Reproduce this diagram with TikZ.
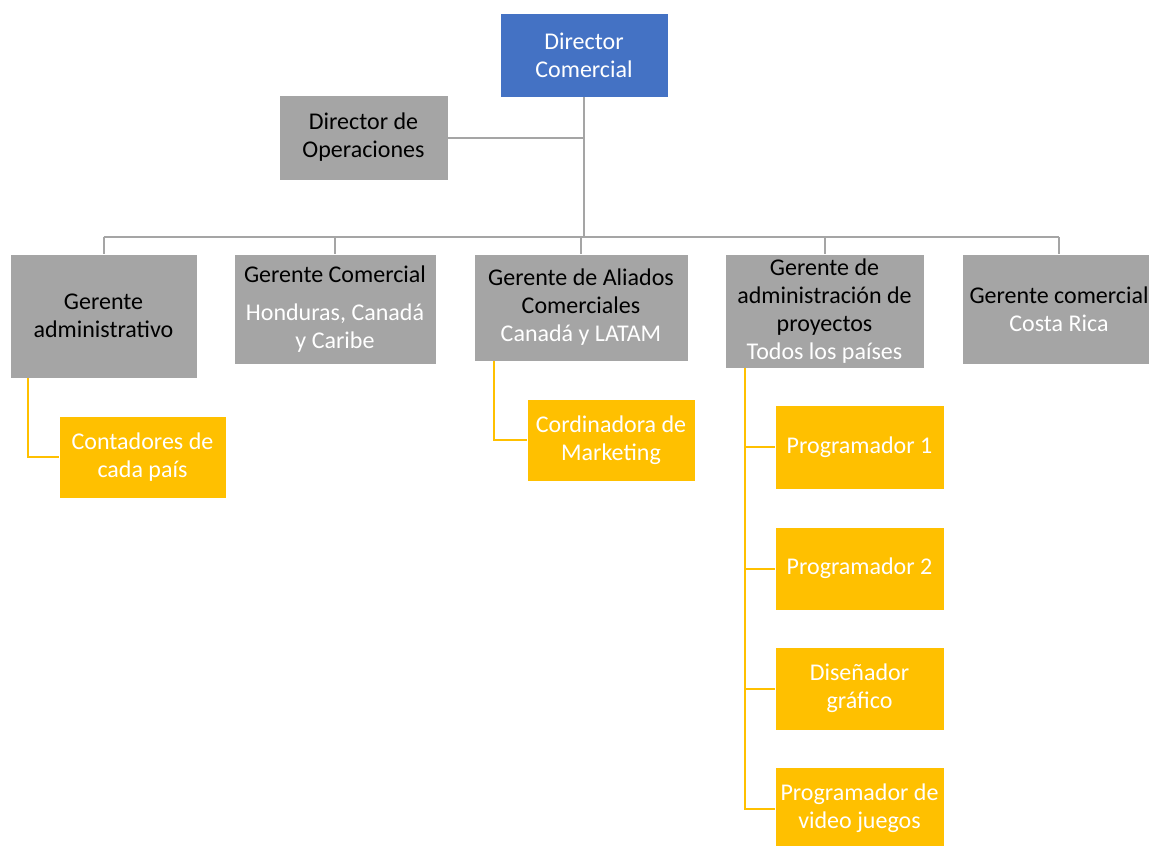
\documentclass[tikz,border=0pt]{standalone}
\usepackage{fontspec}
\setmainfont{Carlito}
\usetikzlibrary{positioning,calc}
\definecolor{azul}{HTML}{4472C4}
\definecolor{gris}{HTML}{A5A5A5}
\definecolor{ambar}{HTML}{FFC000}
\newcommand{\blanco}[1]{\textcolor{white}{#1}}

\begin{document}
\begin{tikzpicture}[x=1pt,y=-1pt,
    caja/.style={draw=white, line width=0.8pt, inner sep=0pt, align=center, font=\fontsize{24}{28}\selectfont},
    jefe/.style={caja, fill=azul, text=white},
    gerente/.style={caja, fill=gris, text=black},
    apoyo/.style={caja, fill=ambar, text=white},
    linea/.style={gris, line width=2pt},
    rama/.style={ambar, line width=2pt}]
      \useasboundingbox (0,0) rectangle (1149,846);

      % direccion
      \node[jefe, minimum width=168, minimum height=84] (dc) at (584,55) {Director\\Comercial};
      \node[gerente, minimum width=169, minimum height=85] (dop) at (363.5,137.5) {Director de\\Operaciones};

      % gerentes
      \node[gerente, minimum width=187, minimum height=124] (ga) at (103.5,316) {Gerente\\administrativo};
      \node[gerente, minimum width=202, minimum height=110] (gc) at (335,309) {Gerente Comercial\\[10pt]\blanco{Honduras, Canadá}\\\blanco{y Caribe}};
      \node[gerente, minimum width=214, minimum height=107] (gal) at (581,307.5) {Gerente de Aliados\\Comerciales\\\blanco{Canadá y LATAM}};
      \node[gerente, minimum width=199, minimum height=114] (gp) at (824.5,311) {Gerente de\\administración de\\proyectos\\\blanco{Todos los países}};
      \node[gerente, minimum width=194, minimum height=110] (gcr) at (1059,309) {Gerente comercial\\\blanco{Costa Rica}};

      % apoyo
      \node[apoyo, minimum width=167, minimum height=82] (cont) at (142.5,457) {Contadores de\\cada país};
      \node[apoyo, minimum width=168, minimum height=82] (mkt) at (611,440) {Cordinadora de\\Marketing};
      \node[apoyo, minimum width=169, minimum height=84] (p1) at (859.5,447) {Programador 1};
      \node[apoyo, minimum width=169, minimum height=83] (p2) at (859.5,568.5) {Programador 2};
      \node[apoyo, minimum width=169, minimum height=83] (dis) at (859.5,688.5) {Diseñador\\gráfico};
      \node[apoyo, minimum width=169, minimum height=83] (pvj) at (859.5,808.5) {Programador de\\video juegos};

      % lineas
      \coordinate (bus) at (0,237);
      \draw[linea] (dc.south) -- (dc.south |- bus);
      \draw[linea] (dop.east) -- (dop.east -| dc.south);
      \draw[linea] (ga.north |- bus) -- (gcr.north |- bus);
      \foreach \g in {ga,gc,gal,gp,gcr}
        \draw[linea] (\g.north |- bus) -- (\g.north);

      \draw[rama] ($(ga.south west)+(18,0)$) |- (cont.west);
      \draw[rama] ($(gal.south west)+(20,0)$) |- (mkt.west);
      \foreach \p in {p1,p2,dis,pvj}
        \draw[rama] ($(gp.south west)+(20,0)$) |- (\p.west);
    \end{tikzpicture}
\end{document}
